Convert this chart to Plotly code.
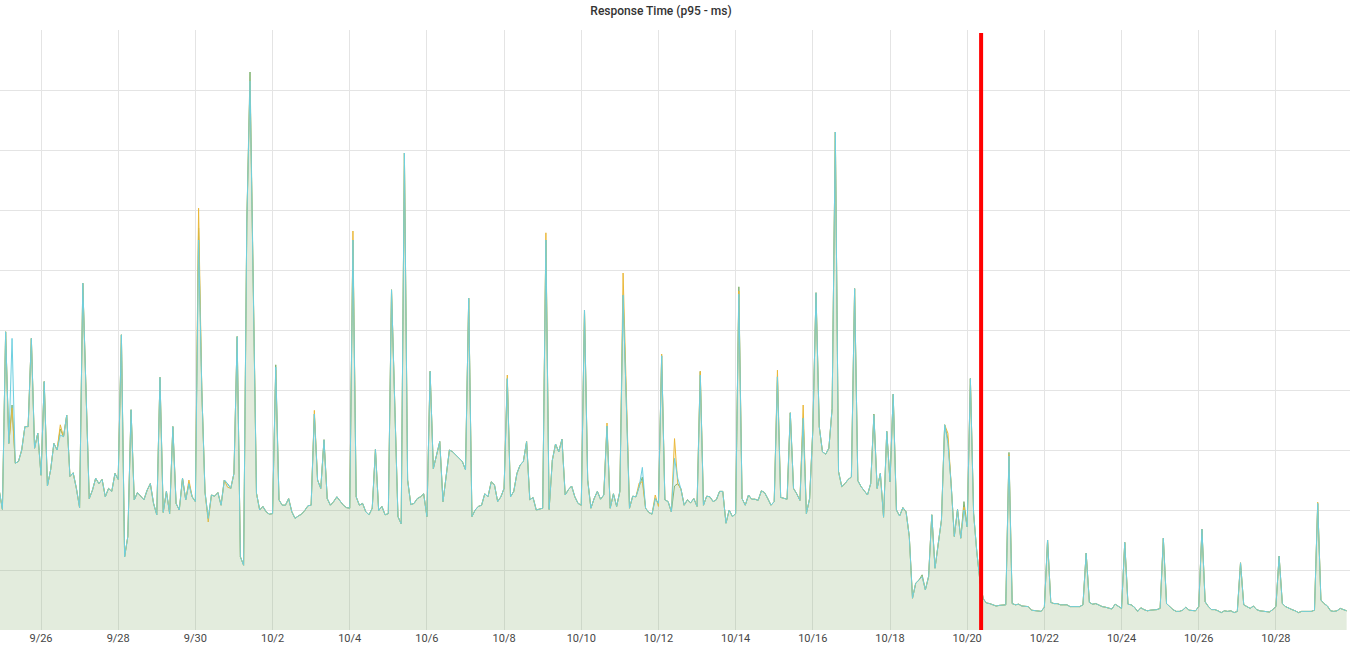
import pandas as pd
import plotly.graph_objects as go

# p95 response time, one point every 2 hours (9/24 22:00 -> 10/29 20:00)
start_time = "2020-09-24 22:00"
step = "2h"

# light blue series (drawn on top)
p95_blue = [
    233, 201, 497, 311, 486, 278, 281, 300, 339, 339, 486, 303,
    328, 258, 414, 240, 267, 311, 300, 325, 322, 358, 256, 262,
    236, 204, 578, 390, 219, 233, 253, 244, 251, 222, 236, 231,
    261, 251, 492, 122, 156, 367, 217, 229, 222, 217, 233, 244,
    211, 192, 421, 196, 231, 194, 339, 211, 200, 253, 217, 244,
    222, 214, 650, 400, 230, 186, 225, 223, 229, 208, 250, 244,
    236, 261, 489, 122, 108, 680, 915, 560, 228, 200, 206, 197,
    193, 194, 438, 217, 208, 208, 219, 197, 186, 190, 193, 199,
    207, 208, 360, 250, 236, 317, 219, 208, 214, 222, 214, 208,
    204, 203, 650, 222, 208, 211, 197, 192, 203, 301, 199, 206,
    192, 194, 567, 380, 189, 177, 795, 250, 209, 211, 219, 222,
    227, 189, 431, 269, 292, 314, 214, 260, 300, 297, 292, 286,
    281, 267, 553, 189, 200, 206, 208, 227, 222, 247, 242, 214,
    222, 236, 419, 222, 231, 261, 275, 281, 314, 217, 221, 200,
    201, 203, 650, 201, 283, 310, 297, 318, 225, 234, 240, 222,
    211, 208, 533, 250, 203, 219, 231, 218, 225, 340, 203, 227,
    206, 231, 558, 380, 203, 223, 222, 239, 271, 203, 196, 193,
    219, 211, 457, 217, 214, 197, 286, 253, 235, 208, 217, 212,
    219, 206, 425, 208, 223, 222, 214, 217, 231, 231, 178, 200,
    189, 194, 560, 219, 208, 225, 218, 218, 216, 232, 229, 219,
    208, 214, 422, 221, 219, 218, 362, 236, 227, 216, 353, 194,
    219, 333, 562, 339, 297, 293, 303, 369, 830, 264, 239, 244,
    251, 255, 569, 249, 239, 232, 225, 244, 358, 236, 261, 188,
    331, 247, 393, 200, 190, 204, 197, 156, 53, 78, 83, 89,
    67, 89, 192, 103, 144, 183, 342, 311, 244, 156, 201, 153,
    200, 172, 419, 194, 130, 80, 52, 45, 44, 42, 40, 41,
    42, 42, 290, 44, 42, 43, 40, 40, 39, 33, 32, 31,
    31, 38, 150, 46, 44, 44, 42, 42, 42, 39, 39, 40,
    39, 42, 128, 46, 43, 44, 41, 39, 38, 36, 35, 43,
    39, 36, 146, 43, 42, 38, 31, 37, 34, 32, 33, 33,
    34, 36, 153, 44, 39, 34, 31, 31, 33, 38, 33, 32,
    32, 39, 168, 47, 39, 34, 34, 32, 29, 32, 31, 32,
    29, 31, 112, 42, 39, 36, 40, 34, 32, 31, 31, 30,
    34, 39, 123, 44, 39, 36, 34, 32, 29, 31, 31, 30,
    31, 33, 211, 50, 44, 40, 32, 31, 32, 36, 34, 32,
]

# yellow series
p95_yellow = [
    233, 201, 497, 311, 370, 278, 281, 300, 339, 339, 486, 303,
    328, 258, 414, 240, 267, 311, 300, 342, 322, 358, 256, 262,
    236, 204, 578, 390, 219, 233, 253, 244, 251, 222, 236, 231,
    261, 251, 492, 122, 156, 367, 217, 229, 222, 217, 233, 244,
    211, 192, 421, 196, 231, 194, 339, 211, 200, 253, 217, 250,
    222, 214, 703, 400, 230, 180, 225, 223, 229, 208, 250, 238,
    236, 261, 489, 122, 108, 680, 915, 560, 228, 200, 206, 197,
    193, 194, 433, 217, 208, 208, 219, 197, 186, 190, 193, 199,
    207, 208, 366, 250, 236, 317, 219, 208, 214, 222, 214, 208,
    204, 203, 665, 222, 208, 211, 197, 192, 203, 301, 199, 206,
    192, 194, 567, 380, 189, 177, 795, 250, 209, 211, 219, 222,
    227, 189, 431, 269, 292, 314, 214, 260, 300, 297, 292, 286,
    281, 267, 553, 189, 200, 206, 208, 227, 222, 247, 242, 214,
    222, 236, 425, 222, 231, 261, 275, 281, 314, 217, 221, 200,
    201, 203, 662, 201, 283, 310, 297, 318, 225, 234, 240, 222,
    211, 208, 533, 250, 203, 219, 231, 218, 225, 345, 203, 227,
    206, 231, 595, 380, 203, 223, 222, 245, 247, 203, 196, 193,
    225, 206, 460, 217, 214, 197, 319, 244, 235, 208, 217, 212,
    219, 206, 431, 208, 223, 222, 214, 217, 231, 231, 178, 200,
    189, 194, 565, 219, 208, 225, 218, 218, 216, 232, 229, 219,
    208, 214, 433, 221, 219, 218, 362, 236, 227, 216, 375, 194,
    219, 333, 562, 339, 297, 293, 303, 369, 830, 264, 239, 244,
    251, 255, 569, 249, 239, 232, 225, 244, 358, 236, 261, 188,
    331, 247, 393, 200, 190, 204, 197, 156, 53, 78, 83, 89,
    67, 89, 192, 103, 144, 183, 342, 328, 244, 156, 201, 153,
    205, 172, 419, 194, 130, 80, 52, 45, 44, 42, 40, 41,
    42, 42, 292, 44, 42, 43, 40, 40, 39, 33, 32, 31,
    31, 38, 150, 46, 44, 44, 42, 42, 42, 39, 39, 40,
    39, 42, 128, 46, 43, 44, 41, 39, 38, 36, 35, 43,
    39, 36, 146, 43, 42, 38, 31, 37, 34, 32, 33, 33,
    34, 36, 153, 44, 39, 34, 31, 31, 33, 38, 33, 32,
    32, 39, 168, 47, 39, 34, 34, 32, 29, 32, 31, 32,
    29, 31, 112, 42, 39, 36, 40, 34, 32, 31, 31, 30,
    34, 39, 123, 44, 39, 36, 34, 32, 29, 31, 31, 30,
    31, 33, 213, 50, 44, 40, 32, 31, 32, 36, 34, 32,
]

# green series
p95_green = [
    233, 201, 497, 311, 375, 278, 281, 300, 339, 339, 486, 303,
    328, 258, 414, 240, 267, 311, 300, 335, 322, 358, 256, 262,
    236, 204, 578, 390, 219, 233, 253, 244, 251, 222, 236, 231,
    261, 251, 492, 122, 156, 367, 217, 229, 222, 217, 233, 244,
    211, 192, 421, 196, 231, 194, 339, 211, 200, 253, 217, 244,
    222, 214, 670, 400, 230, 186, 225, 223, 229, 208, 250, 244,
    236, 261, 489, 122, 108, 680, 930, 560, 228, 200, 206, 197,
    193, 194, 442, 217, 208, 208, 219, 197, 186, 190, 193, 199,
    207, 208, 360, 250, 236, 317, 219, 208, 214, 222, 214, 208,
    204, 203, 650, 222, 208, 211, 197, 192, 203, 301, 199, 206,
    192, 194, 567, 380, 189, 177, 795, 250, 209, 211, 219, 222,
    227, 189, 431, 269, 292, 314, 214, 260, 300, 297, 292, 286,
    281, 267, 553, 189, 200, 206, 208, 227, 222, 247, 242, 214,
    222, 236, 419, 222, 231, 261, 275, 281, 314, 217, 221, 200,
    201, 203, 650, 201, 283, 310, 297, 318, 225, 234, 240, 222,
    211, 208, 533, 250, 203, 219, 231, 218, 225, 340, 203, 227,
    206, 231, 558, 380, 203, 223, 222, 239, 255, 203, 196, 193,
    219, 211, 457, 217, 214, 197, 240, 244, 235, 208, 217, 212,
    219, 206, 431, 208, 223, 222, 214, 217, 231, 231, 178, 200,
    189, 194, 572, 219, 208, 225, 218, 218, 216, 232, 229, 219,
    208, 214, 422, 221, 219, 218, 362, 236, 227, 216, 353, 194,
    219, 333, 562, 339, 297, 293, 303, 369, 830, 264, 239, 244,
    251, 255, 569, 249, 239, 232, 225, 244, 360, 236, 261, 188,
    331, 247, 393, 200, 190, 204, 197, 156, 53, 78, 83, 92,
    67, 89, 192, 103, 144, 183, 342, 318, 244, 156, 201, 153,
    214, 172, 419, 194, 130, 80, 52, 45, 44, 42, 40, 41,
    42, 42, 296, 44, 42, 43, 40, 40, 39, 33, 32, 31,
    31, 38, 150, 46, 44, 44, 42, 42, 42, 39, 39, 40,
    39, 42, 128, 46, 43, 44, 41, 39, 38, 36, 35, 43,
    39, 36, 146, 43, 42, 38, 31, 37, 34, 32, 33, 33,
    34, 36, 153, 44, 39, 34, 31, 31, 33, 38, 33, 32,
    32, 39, 168, 47, 39, 34, 34, 32, 29, 32, 31, 32,
    29, 31, 112, 42, 39, 36, 40, 34, 32, 31, 31, 30,
    34, 39, 123, 44, 39, 36, 34, 32, 29, 31, 31, 30,
    31, 33, 211, 50, 44, 40, 32, 31, 32, 36, 34, 32,
]

# deploy marker (red line)
deploy_time = "2020-10-20 08:40"

times = pd.date_range(start_time, periods=len(p95_blue), freq=step)

series = [
    ("green", p95_green, "#7EB26D", "rgba(126,178,109,0.1)"),
    ("yellow", p95_yellow, "#EAB839", "rgba(234,184,57,0.1)"),
    ("blue", p95_blue, "#6ED0E0", "rgba(110,208,224,0.1)"),
]

fig = go.Figure()
for name, vals, col, fillcol in series:
    fig.add_trace(go.Scatter(
        x=times, y=vals, name=name, mode="lines",
        line=dict(color=col, width=1),
        fill="tozeroy", fillcolor=fillcol,
    ))

fig.add_shape(type="line", x0=deploy_time, x1=deploy_time, xref="x",
              y0=0, y1=0.995, yref="paper",
              line=dict(color="#FF0000", width=4))

fig.update_layout(
    width=1350, height=652,
    margin=dict(l=0, r=0, t=30, b=22),
    paper_bgcolor="white", plot_bgcolor="white",
    showlegend=False,
    font=dict(family="Roboto, Helvetica, Arial, sans-serif", color="#464646"),
    title=dict(text="Response Time (p95 - ms)", x=661 / 1350, xanchor="center",
               y=1 - 11 / 652, yanchor="middle",
               font=dict(size=12, color="#333333", weight=500)),
)
fig.update_xaxes(
    type="date", range=["2020-09-24 22:30", "2020-10-29 22:05"],
    tick0="2020-09-26", dtick=2 * 86400000, tickformat="%-m/%-d",
    showgrid=True, gridcolor="#e4e4e4", zeroline=False, showline=False,
    ticks="", tickfont=dict(size=11, color="#464646"),
)
fig.update_yaxes(
    range=[0, 1000], dtick=100, showticklabels=False,
    showgrid=True, gridcolor="#e4e4e4", zeroline=False, showline=False,
)

fig.write_html("out.html", config={"displayModeBar": False},
               post_script="document.body.style.margin='0';")
